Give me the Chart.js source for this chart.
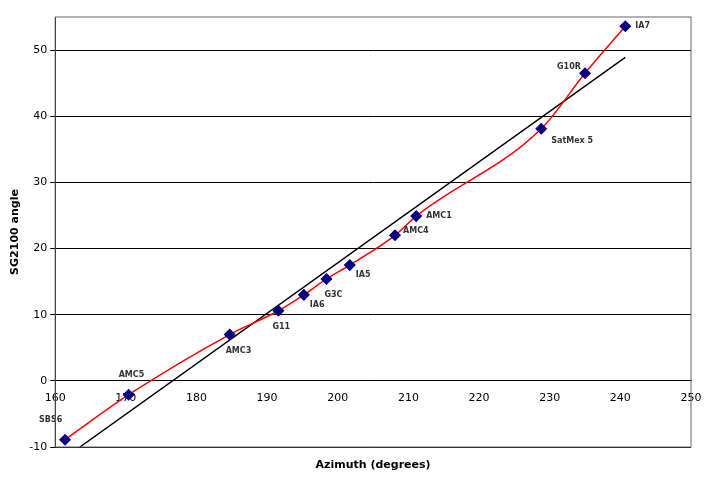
<!DOCTYPE html>
<html><head><meta charset="utf-8">
<script src="https://cdn.jsdelivr.net/npm/chart.js@4/dist/chart.umd.min.js"></script>
<style>body{margin:0;background:#fff}#wrap{width:706px;height:480px}</style>
</head><body><div id="wrap"><canvas id="c"></canvas></div>
<script>
// satellite positions
const names = ['SBS6','AMC5','AMC3','G11','IA6','G3C','IA5','AMC4','AMC1','SatMex 5','G10R','IA7'];
const azimuth = [161.4,170.4,184.7,191.6,195.2,198.4,201.7,208.1,211.1,228.8,235.0,240.7];
const angle = [-8.9,-2.1,7.0,10.6,13.0,15.4,17.5,22.0,24.9,38.1,46.5,53.6];
// label offsets in px (dx, dy)
const labelOffsets = [[-26,-20],[-10,-20],[-4,16],[-6,16],[6,10],[-2,16],[6,10],[8,-4],[10,0],[10,12],[-28,-6],[10,0]];
const fitX = [163.5,240.7];
const fitY = [-10,48.9];

const labelPlugin = {
    id: 'labels',
    afterDatasetsDraw(chart) {
        const ctx = chart.ctx;
        const meta = chart.getDatasetMeta(0);
        ctx.save();
        ctx.font = 'bold 8px "DejaVu Sans"';
        ctx.fillStyle = '#333';
        ctx.textBaseline = 'middle';
        meta.data.forEach((p, i) => {
            ctx.fillText(names[i], p.x + labelOffsets[i][0], p.y + labelOffsets[i][1]);
        });
        const a = chart.chartArea;
        ctx.strokeStyle = '#666';
        ctx.lineWidth = 1;
        ctx.strokeRect(a.left, a.top, a.right - a.left, a.bottom - a.top);
        ctx.font = 'bold 11px "DejaVu Sans"';
        ctx.fillStyle = '#000';
        ctx.textAlign = 'center';
        ctx.fillText('Azimuth (degrees)', (a.left + a.right) / 2, 465);
        ctx.restore();
    }
};

new Chart(document.getElementById('c'), {
    type: 'scatter',
    data: {
        datasets: [
            {
                data: azimuth.map((x, i) => ({ x, y: angle[i] })),
                showLine: true, borderColor: '#ff0000', borderWidth: 1.5,
                cubicInterpolationMode: 'monotone',
                pointStyle: 'rectRot', pointRadius: 5, pointHoverRadius: 5,
                pointBackgroundColor: '#000080', pointBorderColor: '#000080'
            },
            {
                data: fitX.map((x, i) => ({ x, y: fitY[i] })),
                showLine: true, borderColor: '#000', borderWidth: 1.5, pointRadius: 0
            }
        ]
    },
    options: {
        responsive: true, maintainAspectRatio: false, animation: false,
        layout: { padding: { top: 17, right: 15, bottom: 33, left: 5 } },
        plugins: { legend: { display: false }, tooltip: { enabled: false } },
        scales: {
            x: {
                type: 'linear', min: 160, max: 250, position: { y: 0 },
                grid: { display: false, drawTicks: true },
                border: { color: '#000' },
                ticks: { stepSize: 10, color: '#000', font: { size: 11, family: 'DejaVu Sans' } }
            },
            y: {
                min: -10, max: 55,
                grid: { color: '#000', drawTicks: true, tickLength: 5 },
                border: { color: '#000' },
                ticks: { stepSize: 10, color: '#000', font: { size: 11, family: 'DejaVu Sans' },
                    callback: v => v % 10 === 0 ? v : null },
                title: { display: true, text: 'SG2100 angle', color: '#000', font: { size: 11, weight: 'bold', family: 'DejaVu Sans' } }
            }
        }
    },
    plugins: [labelPlugin]
});
</script></body></html>
